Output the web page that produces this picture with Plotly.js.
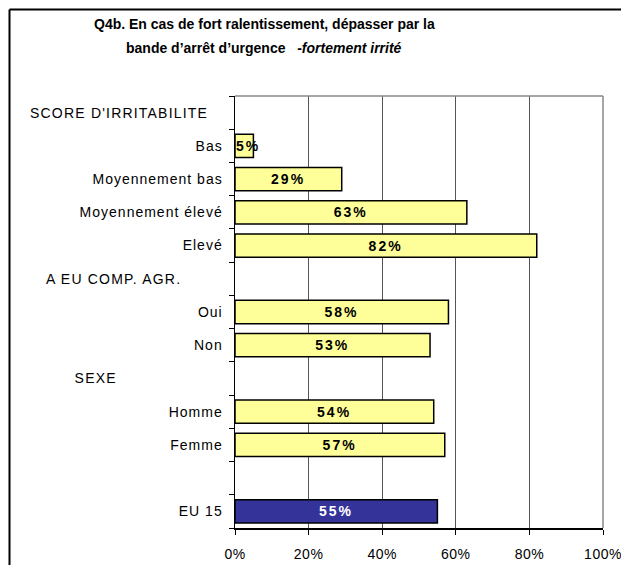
<!DOCTYPE html>
<html>
<head>
<meta charset="utf-8">
<script src="https://cdn.plot.ly/plotly-3.0.1.min.js"></script>
<style>
  html, body { margin: 0; padding: 0; background: #fff; }
  #chart { width: 621px; height: 565px; }
  #chart .ytick text { letter-spacing: 1px; }
  #chart .xtick text { letter-spacing: 0.5px; }
  #chart .annotation[data-index="0"] text,
  #chart .annotation[data-index="1"] text,
  #chart .annotation[data-index="2"] text { letter-spacing: 1.2px; }
  #chart text.bartext { letter-spacing: 2px; }
</style>
</head>
<body>
<div id="chart"></div>
<script>
// Category rows (top to bottom); null value = group header / spacer
const categories = ["SCORE D'IRRITABILITE", "Bas", "Moyennement bas", "Moyennement élevé", "Elevé",
  "A EU COMP. AGR.", "Oui", "Non", "SEXE", "Homme", "Femme", " ", "EU 15"];
const values = [null, 5, 29, 63, 82, null, 58, 53, null, 54, 57, null, 55];
const isHeader = [true, false, false, false, false, true, false, false, true, false, false, false, false];
const headerLeftPx = {"SCORE D'IRRITABILITE": 28, "A EU COMP. AGR.": 44, "SEXE": 73};
const xTickVals = [0, 20, 40, 60, 80, 100];
const xTickText = ["0%", "20%", "40%", "60%", "80%", "100%"];
const titleLine1 = "Q4b. En cas de fort ralentissement, dépasser par la";
const titleLine2 = "bande d’arrêt d’urgence   -<i>fortement irrité</i>";

const W = 621, H = 565;
const M = {l: 235, r: 18, t: 96, b: 37};
const PW = W - M.l - M.r, PH = H - M.t - M.b;
const px2x = p => (p - M.l) / PW;
const py2y = p => (H - M.b - p) / PH;

const FONT = "Liberation Sans, Arial, sans-serif";
const yellow = "#FFFF99", navy = "#333399";
const HEADER_LS = 1.2;

const barColors = categories.map(c => c === "EU 15" ? navy : yellow);
const textColors = categories.map(c => c === "EU 15" ? "#ffffff" : "#000000");
const SMALL = 10; // bars too short to hold their label: label starts at the bar's base
const mainValues = values.map(v => (v !== null && v < SMALL) ? null : v);
const smallValues = values.map(v => (v !== null && v < SMALL) ? v : null);
const pct = arr => arr.map(v => v === null ? "" : v + "%");

const common = {
  type: "bar",
  orientation: "h",
  y: categories,
  marker: {color: barColors, line: {color: "#000", width: 1.5}},
  textposition: "inside",
  textangle: 0,
  constraintext: "none",
  textfont: {family: FONT, size: 14, color: textColors, weight: "bold"},
  hoverinfo: "none",
  cliponaxis: false
};
const traceMain = Object.assign({}, common, {x: mainValues, text: pct(mainValues), insidetextanchor: "middle"});
const traceSmall = Object.assign({}, common, {x: smallValues, text: pct(smallValues), insidetextanchor: "start"});

const annotations = [];
categories.forEach((c, i) => {
  if (isHeader[i]) {
    annotations.push({
      text: c, xref: "paper", yref: "y", x: px2x(headerLeftPx[c] + c.length * HEADER_LS / 2), y: c,
      xanchor: "left", yanchor: "middle", showarrow: false,
      font: {family: FONT, size: 14, color: "#000"}
    });
  }
});
annotations.push({
  text: "<b>" + titleLine1 + "</b>", xref: "paper", yref: "paper",
  x: px2x(264), y: py2y(24), xanchor: "center", yanchor: "middle", showarrow: false,
  font: {family: FONT, size: 14, color: "#000"}
});
annotations.push({
  text: "<b>" + titleLine2 + "</b>", xref: "paper", yref: "paper",
  x: px2x(264), y: py2y(48), xanchor: "center", yanchor: "middle", showarrow: false,
  font: {family: FONT, size: 14, color: "#000"}
});

const shapes = [
  // outer frame: top and left lines
  {type: "line", xref: "paper", yref: "paper", x0: px2x(9.5), x1: px2x(625), y0: py2y(9.5), y1: py2y(9.5),
   line: {color: "#000", width: 2}},
  {type: "line", xref: "paper", yref: "paper", x0: px2x(9.5), x1: px2x(9.5), y0: py2y(9.5), y1: py2y(570),
   line: {color: "#000", width: 2}},
  // plot area top and right borders (gray)
  {type: "line", xref: "paper", yref: "paper", x0: 0, x1: 1, y0: 1, y1: 1, line: {color: "#888", width: 1.5}},
  {type: "line", xref: "paper", yref: "paper", x0: 1, x1: 1, y0: 0, y1: 1, line: {color: "#888", width: 1.5}}
];

const layout = {
  width: W, height: H,
  margin: M,
  paper_bgcolor: "#fff", plot_bgcolor: "#fff",
  showlegend: false,
  barmode: "overlay",
  bargap: 0.3,
  font: {family: FONT, size: 14, color: "#000"},
  xaxis: {
    range: [0, 100], tickvals: xTickVals, ticktext: xTickText,
    showgrid: true, gridcolor: "#555", gridwidth: 1,
    zeroline: false, showline: true, linecolor: "#000", linewidth: 1.5,
    ticks: "outside", ticklen: 5, tickcolor: "#000", tickwidth: 1,
    ticklabelstandoff: 8,
    tickfont: {family: FONT, size: 14, color: "#000"},
    fixedrange: true
  },
  yaxis: {
    type: "category", autorange: "reversed",
    tickvals: categories,
    ticktext: categories.map((c, i) => isHeader[i] ? "" : c),
    showgrid: false, zeroline: false, showline: true, linecolor: "#000", linewidth: 1.5,
    ticks: "outside", ticklen: 5, tickcolor: "#000", tickson: "boundaries",
    ticklabelstandoff: 8,
    tickfont: {family: FONT, size: 14, color: "#000"},
    fixedrange: true
  },
  annotations: annotations,
  shapes: shapes
};

Plotly.newPlot("chart", [traceMain, traceSmall], layout, {displayModeBar: false, staticPlot: true});
</script>
</body>
</html>
